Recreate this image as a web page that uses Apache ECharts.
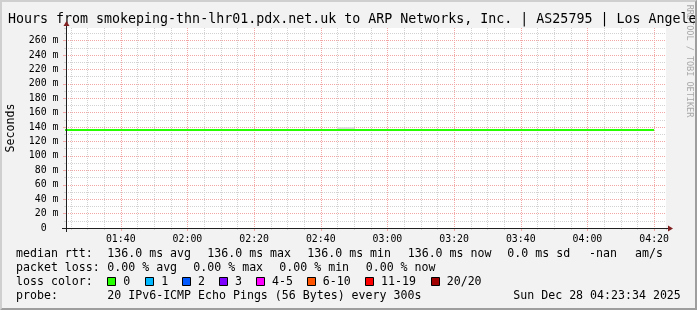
<!DOCTYPE html>
<html><head><meta charset="utf-8">
<script src="https://cdn.jsdelivr.net/npm/echarts@6/dist/echarts.min.js"></script>
<style>html,body{margin:0;padding:0;background:#f2f2f2;}#c{width:697px;height:310px;}</style>
</head><body><div id="c"></div>
<script>
// ---------------- data ----------------
const titleText = "Hours from smokeping-thn-lhr01.pdx.net.uk to ARP Networks, Inc. | AS25795 | Los Angeles";
const yAxisTitle = "Seconds";
const watermark = "RRDTOOL / TOBI OETIKER";
const xRange = ["01:23:34", "04:23:34"];
const yRangeMax = 277.5; // ms
const xTickLabels = ["01:40","02:00","02:20","02:40","03:00","03:20","03:40","04:00","04:20"];
const yTickValues = [0,20,40,60,80,100,120,140,160,180,200,220,240,260];
const yTickLabels = ["0  ","20 m","40 m","60 m","80 m","100 m","120 m","140 m","160 m","180 m","200 m","220 m","240 m","260 m"];
const times = ["01:20","01:25","01:30","01:35","01:40","01:45","01:50","01:55","02:00","02:05","02:10","02:15","02:20","02:25","02:30","02:35","02:40","02:45","02:50","02:55","03:00","03:05","03:10","03:15","03:20","03:25","03:30","03:35","03:40","03:45","03:50","03:55","04:00","04:05","04:10","04:15","04:20"];
const medianRtt = [136.0,136.0,136.0,136.0,136.0,136.0,136.0,136.0,136.0,136.0,136.0,136.0,136.0,136.0,136.0,136.0,136.0,136.0,136.0,136.0,136.0,136.0,136.0,136.0,136.0,136.0,136.0,136.0,136.0,136.0,136.0,136.0,136.0,136.0,136.0,136.0,136.0];
const smokeTimes = ["02:45","02:50"];
const smokeMax = [137.8, 137.8];
const rttLabel = "median rtt:";
const rttStats = ["136.0 ms avg","136.0 ms max","136.0 ms min","136.0 ms now","0.0 ms sd","-nan","am/s"];
const lossLabel = "packet loss:";
const lossStats = ["0.00 % avg","0.00 % max","0.00 % min","0.00 % now"];
const lossColorLabel = "loss color:";
const lossColorNames = ["0","1","2","3","4-5","6-10","11-19","20/20"];
const lossColorValues = ["#26ff00","#00b8ff","#0059ff","#7e00ff","#ff00ff","#ff5500","#ff0000","#a10000"];
const probeLabel = "probe:";
const probeText = "20 IPv6-ICMP Echo Pings (56 Bytes) every 300s";
const dateText = "Sun Dec 28 04:23:34 2025";

// ---------------- layout ----------------
const FONT = '"DejaVu Sans Mono", monospace';
const G = {left:66, top:28, right:666, bottom:228, W:697, H:310};
const rttX = [107.3, 207.3, 307.3, 407.7, 507.3, 589, 635];
const lossX = [107.3, 193.3, 279.3, 365.7];
const boxX = [107.3, 145.3, 182, 219, 256, 306.7, 365, 430.7];
const lineY = [253.5, 267.7, 281.8, 296];
const LFS = 11.6;

function toMin(t){const p=t.split(':').map(Number);return p[0]*60+p[1]+(p[2]||0)/60;}
function fmtX(v){const h=Math.floor(v/60+1e-9), m=Math.round(v-h*60);const s=(h<10?'0':'')+h+':'+(m<10?'0':'')+m;return xTickLabels.indexOf(s)>=0?s:'';}
function fmtY(v){const i=yTickValues.indexOf(Math.round(v));return i>=0&&Math.abs(v-yTickValues[i])<1e-6?yTickLabels[i]:'';}

const xMin = toMin(xRange[0]), xMax = toMin(xRange[1]);
const MGRID = '#f3a6a6';
const GRID = '#d2d2d2';

function txt(x,y,s,opt){opt=opt||{};return {type:'text',x:x,y:y,rotation:opt.rot||0,z:opt.z||20,silent:true,
  style:{text:s,font:(opt.fs||LFS)+'px '+FONT,fill:opt.color||'#000',textAlign:opt.align||'left',align:opt.align||'left',textVerticalAlign:'middle',verticalAlign:'middle'}};}

const graphic = [];
// 3D frame
graphic.push({type:'polygon',silent:true,z:1,shape:{points:[[0,G.H],[2,G.H-2],[2,2],[G.W-2,2],[G.W,0],[0,0]]},style:{fill:'#cfcfcf'}});
graphic.push({type:'polygon',silent:true,z:1,shape:{points:[[2,G.H-2],[G.W-2,G.H-2],[G.W-2,2],[G.W,0],[G.W,G.H],[0,G.H]]},style:{fill:'#9e9e9e'}});
// axes lines and arrows
graphic.push({type:'line',silent:true,z:15,shape:{x1:G.left-4,y1:G.bottom+0.5,x2:G.right+4,y2:G.bottom+0.5},style:{stroke:'#1f1f1f',lineWidth:1}});
graphic.push({type:'line',silent:true,z:15,shape:{x1:G.left+0.5,y1:G.bottom+4,x2:G.left+0.5,y2:G.top-4},style:{stroke:'#1f1f1f',lineWidth:1}});
graphic.push({type:'polygon',silent:true,z:15,shape:{points:[[G.right+2,G.bottom-2.5],[G.right+2,G.bottom+3.5],[G.right+7,G.bottom+0.5]]},style:{fill:'#801f1f'}});
graphic.push({type:'polygon',silent:true,z:15,shape:{points:[[G.left-2.5,G.top-2],[G.left+3.5,G.top-2],[G.left+0.5,G.top-7]]},style:{fill:'#801f1f'}});
// watermark & titles
graphic.push(txt(689.3,61,watermark,{fs:8.5,color:'#a8a8a8',align:'center',rot:-Math.PI/2,z:12}));
graphic.push(txt(8,19.4,titleText,{fs:13.3,z:13}));
graphic.push(txt(10.5,(G.top+G.bottom)/2,yAxisTitle,{align:'center',rot:Math.PI/2}));
// legend lines
graphic.push(txt(16,lineY[0],rttLabel));
rttStats.forEach((s,i)=>graphic.push(txt(rttX[i],lineY[0],s)));
graphic.push(txt(16,lineY[1],lossLabel));
lossStats.forEach((s,i)=>graphic.push(txt(lossX[i],lineY[1],s)));
graphic.push(txt(16,lineY[2],lossColorLabel));
lossColorNames.forEach((s,i)=>{
  graphic.push({type:'rect',silent:true,z:20,shape:{x:Math.round(boxX[i])+0.5,y:Math.round(lineY[2])-4.5,width:8,height:8},style:{fill:lossColorValues[i],stroke:'#000',lineWidth:1}});
  graphic.push(txt(boxX[i]+16,lineY[2],s));
});
graphic.push(txt(16,lineY[3],probeLabel));
graphic.push(txt(107.3,lineY[3],probeText));
graphic.push(txt(513.3,lineY[3],dateText));
// re-draw right/bottom frame above clipped title
graphic.push({type:'polygon',silent:true,z:14,shape:{points:[[G.W-2,2],[G.W,0],[G.W,G.H],[G.W-2,G.H-2]]},style:{fill:'#9e9e9e'}});

const chart = echarts.init(document.getElementById('c'), null, {renderer:'canvas'});
chart.setOption({
  animation:false,
  backgroundColor:'#f2f2f2',
  grid:{left:G.left, right:G.W-G.right, top:G.top, bottom:G.H-G.bottom, show:true, backgroundColor:'#ffffff', borderWidth:0, containLabel:false, z:0},
  xAxis:[
    {type:'value', position:'bottom', min:xMin, max:xMax, splitNumber:9, minInterval:20, maxInterval:20, z:2,
     axisLine:{show:false}, axisTick:{show:true,length:3,lineStyle:{color:MGRID}},
     axisLabel:{show:true, margin:6, fontFamily:FONT, fontSize:9.9, color:'#000', showMinLabel:false, showMaxLabel:false, formatter:fmtX, hideOverlap:false},
     splitLine:{show:true, showMinLine:false, showMaxLine:false, lineStyle:{color:MGRID, width:1, type:[1,1]}}},
    {type:'value', position:'bottom', min:xMin, max:xMax, splitNumber:36, minInterval:5, maxInterval:5, z:1,
     axisLine:{show:false}, axisTick:{show:true,length:2,lineStyle:{color:GRID}}, axisLabel:{show:false},
     splitLine:{show:true, showMinLine:false, showMaxLine:false, lineStyle:{color:GRID, width:1, type:[1,1]}}}
  ],
  yAxis:[
    {type:'value', position:'left', min:0, max:yRangeMax, interval:20, z:2,
     axisLine:{show:false}, axisTick:{show:true,length:3,lineStyle:{color:MGRID}},
     axisLabel:{show:true, margin:7.5, fontFamily:FONT, fontSize:9.9, color:'#000', showMinLabel:true, showMaxLabel:false, formatter:fmtY},
     splitLine:{show:true, showMinLine:false, showMaxLine:false, lineStyle:{color:MGRID, width:1, type:[1,1]}}},
    {type:'value', position:'left', min:0, max:yRangeMax, interval:10, z:1,
     axisLine:{show:false}, axisTick:{show:true,length:2,lineStyle:{color:GRID}}, axisLabel:{show:false},
     splitLine:{show:true, showMinLine:false, showMaxLine:false, lineStyle:{color:GRID, width:1, type:[1,1]}}}
  ],
  series:[
    {type:'line', name:'smoke', xAxisIndex:0, yAxisIndex:0, z:3, symbol:'none', silent:true,
     data:smokeTimes.map((t,i)=>[toMin(t), smokeMax[i]]), lineStyle:{color:'#dcdcdc', width:3}},
    {type:'line', name:'median rtt', xAxisIndex:0, yAxisIndex:0, z:4, symbol:'none', silent:true, clip:true,
     data:times.map((t,i)=>[toMin(t), medianRtt[i]]), lineStyle:{color:'#26ff00', width:2}}
  ],
  graphic:{elements:graphic}
});
</script></body></html>
